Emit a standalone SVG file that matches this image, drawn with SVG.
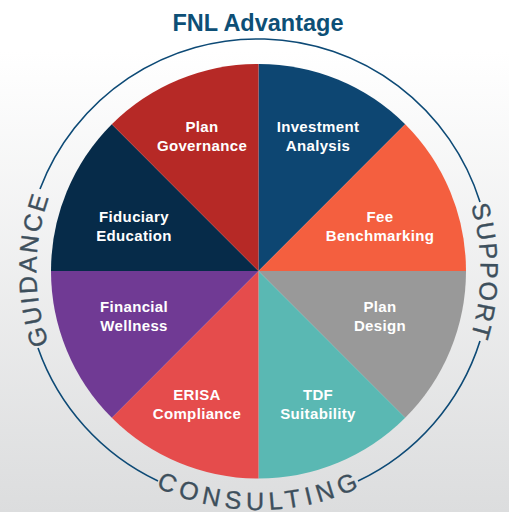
<svg xmlns="http://www.w3.org/2000/svg" width="509" height="512" viewBox="0 0 509 512">
<style>
.lb{font-family:"Liberation Sans",Arial,sans-serif;font-weight:700;font-size:15px;fill:#fff;text-anchor:middle;letter-spacing:.35px}
.rg{font-family:"Liberation Sans",Arial,sans-serif;font-size:25px;fill:#3d4f5c;stroke:#3d4f5c;stroke-width:.35;text-anchor:middle}
.ring{fill:none;stroke:#0d4a76;stroke-width:1.6}
</style>
<defs>
<linearGradient id="bg" x1="0" y1="0" x2="0" y2="1"><stop offset="0" stop-color="#fff"/><stop offset=".1" stop-color="#fff"/><stop offset="1" stop-color="#dcddde"/></linearGradient>
<path id="pLt" d="M66.200 382A222 222 0 0 1 66.200 160"/>
<path id="pRt" d="M450.800 160A222 222 0 0 1 450.800 382"/>
<path id="pBt" d="M51.500 390.500A239 239 0 0 0 465.500 390.500"/>
</defs>
<rect width="509" height="512" fill="url(#bg)"/>
<g id="connectors">
<path class="ring" d="M40 189A233 233 0 0 1 480 202"/>
<path class="ring" d="M480 341A232.500 232.500 0 0 1 358 481"/>
<path class="ring" d="M158 481A232.500 232.500 0 0 1 38 348"/>
</g>
<g id="title"><text x="258" y="31" style="font-family:'Liberation Sans',Arial,sans-serif;font-weight:700;font-size:23.500px;fill:#0d4f76;text-anchor:middle">FNL Advantage</text></g>
<g id="investment"><path d="M258.500 271V64A207.500 207.500 0 0 1 405.200 124.300Z" fill="#0d4672"/><text class="lb" x="318" y="132">Investment</text><text class="lb" x="318" y="151">Analysis</text></g>
<g id="fee"><path d="M258.500 271L405.200 124.300A207.500 207.500 0 0 1 466 271Z" fill="#f45f3f"/><text class="lb" x="380" y="222">Fee</text><text class="lb" x="380" y="241">Benchmarking</text></g>
<g id="design"><path d="M258.500 271H466A207.500 207.500 0 0 1 405.200 417.700Z" fill="#999"/><text class="lb" x="380" y="312">Plan</text><text class="lb" x="380" y="331">Design</text></g>
<g id="tdf"><path d="M258.500 271L405.200 417.700A207.500 207.500 0 0 1 258.500 478.500Z" fill="#5ab8b3"/><text class="lb" x="318" y="400">TDF</text><text class="lb" x="318" y="419">Suitability</text></g>
<g id="erisa"><path d="M258.500 271V478.500A207.500 207.500 0 0 1 111.800 417.700Z" fill="#e54c4c"/><text class="lb" x="197" y="400">ERISA</text><text class="lb" x="197" y="419">Compliance</text></g>
<g id="wellness"><path d="M258.500 271L111.800 417.700A207.500 207.500 0 0 1 51 271Z" fill="#703a94"/><text class="lb" x="134" y="312">Financial</text><text class="lb" x="134" y="331">Wellness</text></g>
<g id="fiduciary"><path d="M258.500 271H51A207.500 207.500 0 0 1 111.800 124.300Z" fill="#062b49"/><text class="lb" x="134" y="222">Fiduciary</text><text class="lb" x="134" y="241">Education</text></g>
<g id="governance"><path d="M258.500 271L111.800 124.300A207.500 207.500 0 0 1 258.500 64Z" fill="#b62926"/><text class="lb" x="202" y="132">Plan</text><text class="lb" x="202" y="151">Governance</text></g>
<g id="ring-labels">
<text class="rg" letter-spacing="2.400"><textPath href="#pLt" startOffset="50.600%">GUIDANCE</textPath></text>
<text class="rg" letter-spacing="2"><textPath href="#pRt" startOffset="50.400%">SUPPORT</textPath></text>
<text class="rg" letter-spacing="5.300"><textPath href="#pBt" startOffset="50.300%">CONSULTING</textPath></text>
</g>
</svg>
